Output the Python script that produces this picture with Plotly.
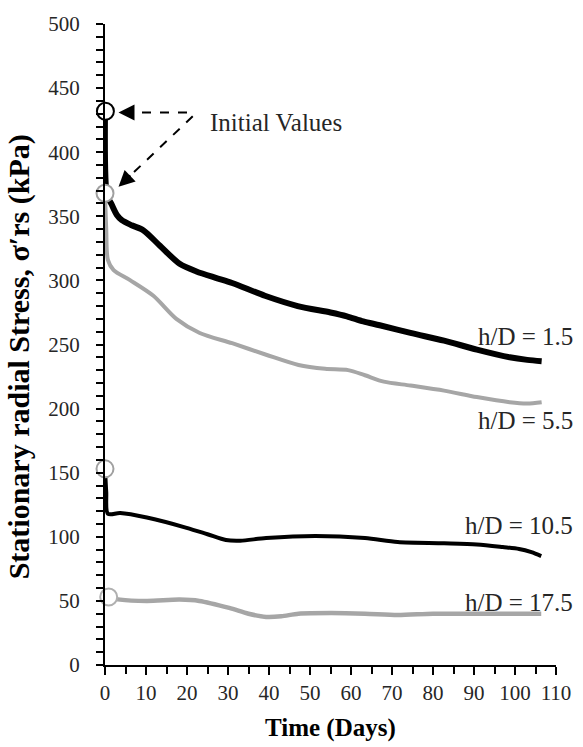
import plotly.graph_objects as go

# ---- data ----
t_15 = [0, 0.5, 1.5, 2.9, 4.1, 6.5, 9.4, 13.4, 18.2, 22.3, 27, 31, 39, 47, 55, 59, 63, 67, 74.5, 82.7, 90.7, 98.7, 103, 106.5]
s_15 = [432, 366, 360, 351, 347, 343, 339, 327, 313, 307, 302, 298, 288, 280, 275, 272, 268, 265, 259, 253, 246, 240, 238, 237]

t_55 = [0, 0.3, 0.7, 2.1, 6.2, 11.8, 17.4, 23.1, 31, 39.3, 47.2, 53.7, 59.3, 63.4, 68, 74.5, 82.7, 90.7, 98.7, 103, 106.5]
s_55 = [368, 340, 316, 308, 300, 288, 270, 259, 251, 242, 234, 231, 230, 226, 221, 218, 214, 209, 205, 204, 205]

t_105 = [0, 0.3, 0.7, 3.7, 10.2, 19.9, 25, 29.5, 33, 39.3, 51.3, 63.4, 71.4, 82.7, 90.7, 97, 101, 104, 106.4]
s_105 = [153, 135, 118, 118.5, 115, 107, 102, 97.5, 97, 99, 100.6, 99, 96, 95, 94, 92, 90.5, 88, 85]

t_175 = [0.9, 3.7, 10.2, 18.2, 23, 30.3, 35, 39.3, 43, 47.2, 55.2, 63.4, 71.4, 80, 90.7, 100, 106.4]
s_175 = [53, 51, 50, 51, 50, 44.5, 40, 37.5, 38, 40, 40.5, 40, 39, 40, 40, 40, 40]

init_t = [0.1, 0, 0, 0.9]
init_s = [432, 368, 153, 53]
init_colors = ["#000000", "#a0a0a0", "#a0a0a0", "#b0b0b0"]

series_labels = ["h/D = 1.5", "h/D = 5.5", "h/D = 10.5", "h/D = 17.5"]
label_y = [256, 191, 109, 49]

x_ticks = list(range(0, 111, 10))
y_ticks = list(range(0, 501, 50))

FONT = "Liberation Serif, Times New Roman, serif"
TXT = "#262626"
GREY = "#a6a6a6"

fig = go.Figure()
styles = [("#000000", 6), (GREY, 4), ("#000000", 4), (GREY, 4.5)]
for (tx, sy), (col, w) in zip([(t_15, s_15), (t_55, s_55), (t_105, s_105), (t_175, s_175)], styles):
    fig.add_trace(go.Scatter(x=tx, y=sy, mode="lines",
                             line=dict(color=col, width=w, shape="spline", smoothing=0.8),
                             cliponaxis=False, showlegend=False, hoverinfo="skip"))

fig.add_trace(go.Scatter(x=init_t, y=init_s, mode="markers",
                         marker=dict(symbol="circle", size=17, color="white",
                                     line=dict(color=init_colors, width=2)),
                         cliponaxis=False, showlegend=False, hoverinfo="skip"))

annotations = []
for lab, ly in zip(series_labels, label_y):
    annotations.append(dict(text=lab, xref="paper", x=1.043, xanchor="right",
                            yref="y", y=ly, yanchor="middle", showarrow=False,
                            font=dict(family=FONT, size=25, color=TXT)))

annotations.append(dict(text="Initial Values", xref="x", x=25.1, xanchor="left",
                        yref="y", y=423, yanchor="middle", showarrow=False,
                        font=dict(family=FONT, size=25, color=TXT)))

# dashed arrows
arrow_paths = [((20, 431), (3.3, 431)), ((21.4, 428), (3.3, 373))]
shapes = []
for (x0, y0), (x1, y1) in arrow_paths:
    fx = x1 + (x0 - x1) * 0.18
    fy = y1 + (y0 - y1) * 0.18
    shapes.append(dict(type="line", xref="x", yref="y", x0=x0, y0=y0, x1=fx, y1=fy,
                       line=dict(color="#000000", width=2, dash="dash")))
    annotations.append(dict(text="", xref="x", yref="y", x=x1, y=y1,
                            axref="x", ayref="y", ax=fx, ay=fy, showarrow=True,
                            arrowhead=2, arrowsize=1.6, arrowwidth=2, arrowcolor="#000000"))

annotations.append(dict(text="<b>Time (Days)</b>", xref="paper", x=0.5, xanchor="center",
                        yref="paper", y=-0.099, yanchor="middle", showarrow=False,
                        font=dict(family=FONT, size=25, color="#000000")))
annotations.append(dict(text="<b>Stationary radial Stress, σ′rs (kPa)</b>", xref="paper", x=0,
                        xshift=-86, xanchor="center", yref="paper", y=0.48, yanchor="middle",
                        textangle=-90, showarrow=False,
                        font=dict(family=FONT, size=30, color="#000000")))

fig.update_layout(
    width=583, height=747,
    margin=dict(l=105, r=23, t=20, b=82),
    paper_bgcolor="white", plot_bgcolor="white",
    font=dict(family=FONT, size=21, color=TXT),
    shapes=shapes, annotations=annotations,
    xaxis=dict(range=[0, 110], tickvals=x_ticks, ticks="outside", ticklen=8, tickwidth=2,
               tickcolor="#000000", showline=True, linecolor="#000000", linewidth=2,
               showgrid=False, zeroline=False, tickfont=dict(size=21, color=TXT),
               minor=dict(dtick=5, ticks="outside", ticklen=7, tickwidth=2, tickcolor="#000000")),
    yaxis=dict(range=[0, 500], tickvals=y_ticks, ticks="outside", ticklen=7, tickwidth=2,
               tickcolor="#000000", showline=True, linecolor="#000000", linewidth=2,
               showgrid=False, zeroline=False, tickfont=dict(size=21, color=TXT),
               ticklabelstandoff=12,
               minor=dict(dtick=10, ticks="outside", ticklen=7, tickwidth=2, tickcolor="#000000")),
)

fig.write_html("out.html", config={"displayModeBar": False},
               post_script="document.body.style.margin='0';document.body.style.padding='0';")
